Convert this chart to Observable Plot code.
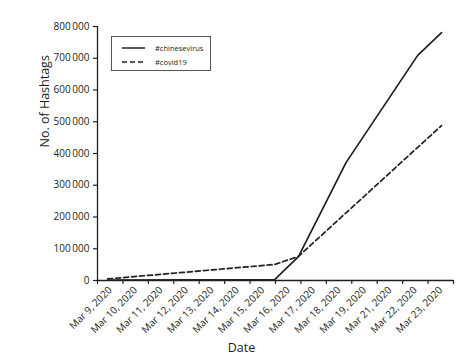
<!DOCTYPE html>
<html>
<head>
<meta charset="utf-8">
<script src="https://cdn.jsdelivr.net/npm/d3@7"></script>
<script src="https://cdn.jsdelivr.net/npm/@observablehq/plot@0.6"></script>
<style>
  html, body { margin: 0; padding: 0; background: #fff; }
  #wrap { position: relative; width: 467px; height: 359px; font-family: "Open Sans", sans-serif; }
  #legend { position: absolute; left: 111px; top: 36px; width: 98px; height: 33px; border: 1.5px solid #555; background: #fff; }
  #legend .row { position: absolute; left: 10px; height: 10px; display: flex; align-items: center; font-size: 7.5px; color: #231f20; }
  #legend svg { margin-right: 10px; }
</style>
</head>
<body>
<div id="wrap"><div id="legend"></div></div>
<script>
// Tick labels (categorical axis)
const categories = ["Mar 9, 2020", "Mar 10, 2020", "Mar 11, 2020", "Mar 12, 2020", "Mar 13, 2020",
  "Mar 14, 2020", "Mar 15, 2020", "Mar 16, 2020", "Mar 17, 2020", "Mar 18, 2020",
  "Mar 19, 2020", "Mar 21, 2020", "Mar 22, 2020", "Mar 23, 2020"];
const yTicks = [0, 100000, 200000, 300000, 400000, 500000, 600000, 700000, 800000];

// Series
const seriesNames = ["#chinesevirus", "#covid19"];
const chineseDates = ["2020-03-09", "2020-03-16", "2020-03-17", "2020-03-19", "2020-03-22", "2020-03-23"];
const chineseValues = [1000, 3000, 75000, 372000, 709000, 781000];
const covidDates = ["2020-03-09", "2020-03-16", "2020-03-17", "2020-03-23"];
const covidValues = [5000, 50400, 76000, 488000];

const parse = d3.utcParse("%Y-%m-%d");
// map real dates onto the category-unit x axis
const pos = d3.scaleUtc().domain([parse("2020-03-09"), parse("2020-03-23")]).range([0.4, 13.53]);

const chinese = chineseDates.map((d, i) => ({x: pos(parse(d)), y: chineseValues[i]}));
const covid = covidDates.map((d, i) => ({x: pos(parse(d)), y: covidValues[i]}));

const fmt = d => d3.format(",")(d).replace(/,/g, "\u2009");
const ink = "#231f20";

const chart = Plot.plot({
  width: 467, height: 359,
  marginLeft: 97, marginRight: 14, marginTop: 26, marginBottom: 79,
  style: {fontFamily: "'Open Sans', sans-serif", fontSize: "10px", color: ink, background: "transparent"},
  x: {domain: [0, categories.length], axis: null},
  y: {domain: [0, 800000], axis: null},
  marks: [
    Plot.axisY({ticks: yTicks, tickFormat: fmt, tickSize: 4, tickPadding: 4, label: null, fontSize: 10, stroke: ink, strokeWidth: 1.2}),
    Plot.axisX({ticks: d3.range(categories.length + 1), tickFormat: () => "", tickSize: 4, label: null, stroke: ink, strokeWidth: 1.2}),
    Plot.text(categories, {x: (d, i) => i + 0.5, frameAnchor: "bottom", dy: 8, rotate: -45, textAnchor: "end", lineAnchor: "middle", fontSize: 10, fill: ink}),
    Plot.ruleX([0], {stroke: ink, strokeWidth: 1.3}),
    Plot.ruleY([0], {stroke: ink, strokeWidth: 1.3}),
    Plot.line(covid, {x: "x", y: "y", stroke: ink, strokeWidth: 1.7, strokeDasharray: "5,3"}),
    Plot.line(chinese, {x: "x", y: "y", stroke: ink, strokeWidth: 1.7}),
    Plot.text(["No. of Hashtags"], {frameAnchor: "left", rotate: -90, dx: -53, dy: -6, fontSize: 12.5, fill: ink}),
    Plot.text(["Date"], {frameAnchor: "bottom", dx: -34, dy: 71, lineAnchor: "bottom", fontSize: 12.5, fill: ink})
  ]
});
document.getElementById("wrap").prepend(chart);

// Legend
const legend = d3.select("#legend");
const dashes = [null, "5,3"];
seriesNames.forEach((name, i) => {
  const row = legend.append("div").attr("class", "row").style("top", (6 + i * 14) + "px");
  const s = row.append("svg").attr("width", 23).attr("height", 4);
  s.append("line").attr("x1", 0).attr("x2", 23).attr("y1", 2).attr("y2", 2)
    .attr("stroke", ink).attr("stroke-width", 1.5).attr("stroke-dasharray", dashes[i]);
  row.append("span").text(name);
});
</script>
</body>
</html>
